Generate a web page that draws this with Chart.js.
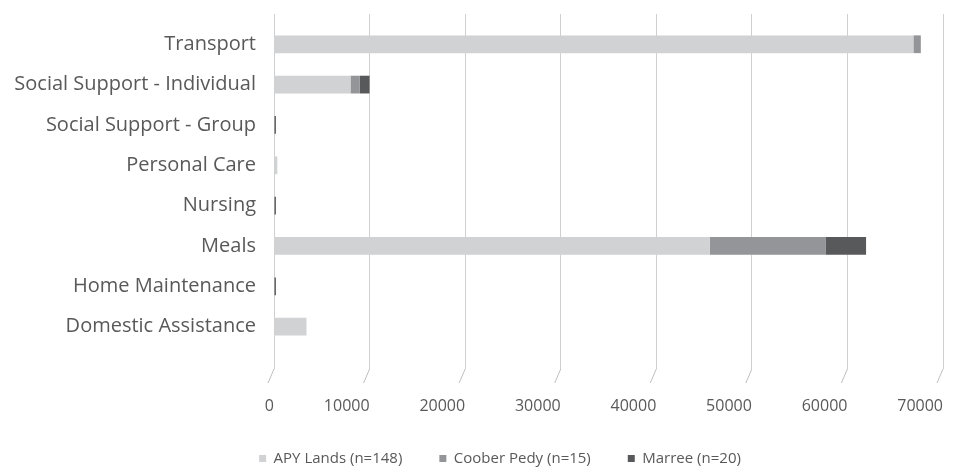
<!DOCTYPE html>
<html>
<head>
<meta charset="utf-8">
<script src="https://cdn.jsdelivr.net/npm/chart.js@4"></script>
<style>
  html, body { margin: 0; padding: 0; background: #fff; }
  #wrap { width: 955px; height: 476px; }
</style>
</head>
<body>
<div id="wrap"><canvas id="myChart"></canvas></div>
<script>
const categories = ['Transport', 'Social Support - Individual', 'Social Support - Group', 'Personal Care', 'Nursing', 'Meals', 'Home Maintenance', 'Domestic Assistance'];
const apyLands = [66900, 8000, 0, 350, 0, 45600, 0, 3400];
const cooberPedy = [780, 950, 0, 0, 0, 12150, 0, 0];
const marree = [0, 1050, 200, 0, 200, 4200, 200, 0];
const xTicks = [0, 10000, 20000, 30000, 40000, 50000, 60000, 70000];

const ctx = document.getElementById('myChart');
const textColor = '#595959';
const font = 'Open Sans';

function points(values) {
  return values.map((v, i) => ({ x: v, y: i }));
}

// small slanted tick marks under each gridline, like the original
const slantTicks = {
  id: 'slantTicks',
  afterDraw(chart) {
    const xs = chart.scales.x;
    const bottom = chart.chartArea.bottom;
    const c = chart.ctx;
    c.save();
    c.strokeStyle = '#bfbfbf';
    c.lineWidth = 1;
    xTicks.forEach(t => {
      const px = xs.getPixelForValue(t);
      c.beginPath();
      c.moveTo(px, bottom);
      c.lineTo(px - 6, bottom + 14);
      c.stroke();
    });
    c.restore();
  }
};

// legend in the original sits a bit right of the page centre
const shiftLegend = {
  id: 'shiftLegend',
  afterLayout(chart) {
    chart.legend.left = 57;
  }
};

new Chart(ctx, {
  type: 'bar',
  data: {
    datasets: [{
      label: 'APY Lands (n=148)',
      data: points(apyLands),
      backgroundColor: '#d1d2d4'
    }, {
      label: 'Coober Pedy (n=15)',
      data: points(cooberPedy),
      backgroundColor: '#939598'
    }, {
      label: 'Marree (n=20)',
      data: points(marree),
      backgroundColor: '#58595b'
    }]
  },
  options: {
    indexAxis: 'y',
    responsive: true,
    maintainAspectRatio: false,
    animation: false,
    barPercentage: 0.88,
    categoryPercentage: 0.5,
    layout: {
      padding: { left: 0, right: 12, top: 14, bottom: 0 }
    },
    plugins: {
      tooltip: { enabled: false },
      legend: {
        position: 'bottom',
        labels: {
          color: textColor,
          font: { family: font, size: 15 },
          boxWidth: 7,
          boxHeight: 7,
          padding: 37
        }
      }
    },
    scales: {
      x: {
        stacked: true,
        min: 0,
        max: 70000,
        afterBuildTicks: (scale) => {
          scale.ticks = xTicks.map(v => ({ value: v }));
        },
        afterFit: (scale) => {
          scale.height = 45;
          scale.paddingLeft = 0;
          scale.paddingRight = 0;
        },
        grid: { color: '#d0d0d0', tickLength: 0, drawTicks: false },
        border: { display: false },
        ticks: {
          color: textColor,
          font: { family: font, size: 16 },
          padding: 28,
          maxRotation: 0,
          align: 'end',
          callback: (v) => String(v)
        }
      },
      y: {
        type: 'linear',
        stacked: true,
        reverse: true,
        offset: false,
        min: -0.75,
        max: 8.05,
        afterBuildTicks: (scale) => {
          scale.ticks = categories.map((c, i) => ({ value: i }));
        },
        afterFit: (scale) => {
          scale.width = 274;
          scale.paddingTop = 0;
          scale.paddingBottom = 0;
        },
        grid: { display: false, drawTicks: false },
        border: { display: false },
        ticks: {
          color: textColor,
          font: { family: font, size: 20 },
          padding: 18,
          callback: (v) => categories[v] || ''
        }
      }
    }
  },
  plugins: [slantTicks, shiftLegend]
});
</script>
</body>
</html>
